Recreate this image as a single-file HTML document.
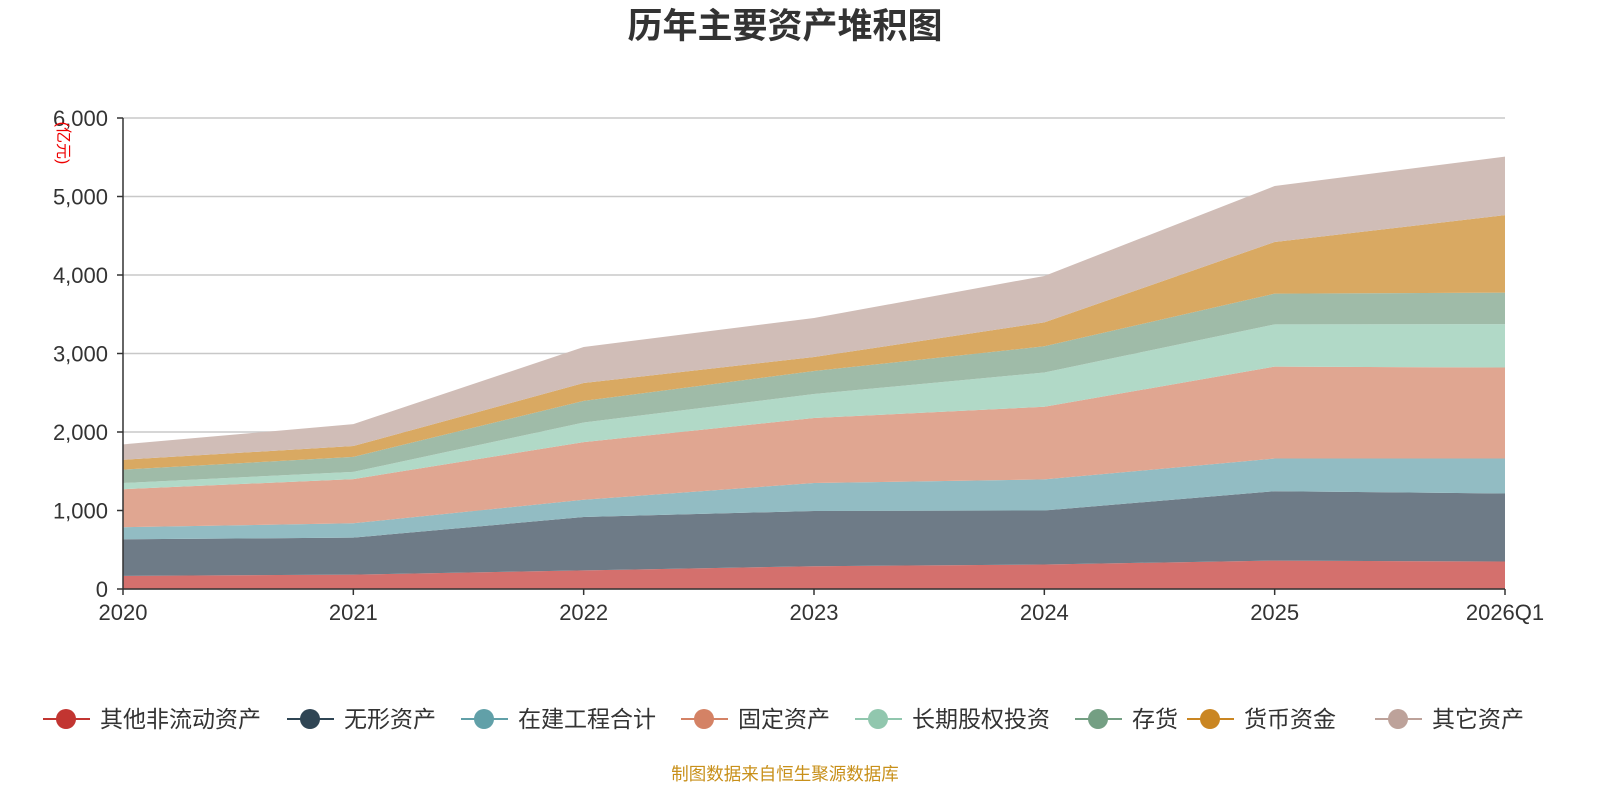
<!DOCTYPE html>
<html><head><meta charset="utf-8">
<style>
body{margin:0;background:#fff;font-family:"Liberation Sans","Noto Sans CJK SC",sans-serif;}
#wrap{position:relative;width:1600px;height:800px;}
</style></head>
<body><div id="wrap">
<svg id="chart" width="1600" height="800" style="font-family:'Liberation Sans','Noto Sans CJK SC',sans-serif"></svg>
</div>
<script>
const categories=["2020","2021","2022","2023","2024","2025","2026Q1"];
const seriesNames=["其他非流动资产","无形资产","在建工程合计","固定资产","长期股权投资","存货","货币资金","其它资产"];
const sOtherNonCurrent=[167,183,237,290,312,362,350];
const sIntangible=[466,471,680,704,688,884,867];
const sConstruction=[154,183,220,356,396,416,445];
const sFixed=[484,563,734,828,925,1171,1159];
const sEquityInv=[79,92,250,306,437,538,554];
const sInventory=[171,191,275,293,334,392,400];
const sCash=[125,138,228,178,304,658,988];
const sOther=[196,279,459,497,592,712,745];
const yTicks=[0,1000,2000,3000,4000,5000,6000];
const yTickLabels=["0","1,000","2,000","3,000","4,000","5,000","6,000"];

const series=[sOtherNonCurrent,sIntangible,sConstruction,sFixed,sEquityInv,sInventory,sCash,sOther];
const fills=["#d4706d","#6e7b87","#92bcc3","#e0a691","#b1d9c7","#9fbba8","#d9a962","#d0bdb7"];
const legendColors=["#c23531","#2f4554","#61a0a8","#d48265","#91c7ae","#749f83","#ca8622","#bda29a"];
const NS="http://www.w3.org/2000/svg";
const svg=document.getElementById('chart');
const X0=123,X1=1505,Y0=589,Y1=118,YMAX=6000;
const xS=i=>X0+(X1-X0)*i/(categories.length-1);
const yS=v=>Y0-(Y0-Y1)*v/YMAX;
function mk(t,a,p){const e=document.createElementNS(NS,t);for(const k in a)e.setAttribute(k,a[k]);(p||svg).appendChild(e);return e;}

let t=mk('text',{x:785,y:38,'text-anchor':'middle','font-size':35,'font-weight':'bold',fill:'#333'});
t.textContent='历年主要资产堆积图';



yTicks.forEach((v,i)=>{
  const g=mk('line',{x1:X0,x2:X1,y1:yS(v),y2:yS(v),stroke:'#c8c8c8','stroke-width':1.5});
  
  
  const tk=mk('line',{x1:X0-6,x2:X0,y1:yS(v),y2:yS(v),stroke:'#333','stroke-width':1.5});
  
  
  const l=mk('text',{x:X0-15,y:yS(v)+8,'text-anchor':'end','font-size':22,fill:'#333'});
  l.textContent=yTickLabels[i];
  
  
});

let cum=categories.map(()=>0);
series.forEach((s,si)=>{
  const lower=cum.slice();
  const upper=cum.map((c,i)=>c+s[i]);
  let d='M'+upper.map((v,i)=>xS(i)+','+yS(v)).join(' L');
  for(let i=categories.length-1;i>=0;i--)d+=' L'+xS(i)+','+yS(lower[i]);
  d+='Z';
  const p=mk('path',{d:d,fill:fills[si]});
  
  
  cum=upper;
});

const ax=mk('line',{x1:X0,x2:X0,y1:Y1,y2:Y0,stroke:'#333','stroke-width':1.5});


const xa=mk('line',{x1:X0,x2:X1,y1:Y0,y2:Y0,stroke:'#333','stroke-width':1.5});


categories.forEach((c,i)=>{
  const tk=mk('line',{x1:xS(i),x2:xS(i),y1:Y0,y2:Y0+6,stroke:'#333','stroke-width':1.5});
  
  
  const l=mk('text',{x:xS(i),y:620,'text-anchor':'middle','font-size':22,fill:'#333'});
  l.textContent=c;
  
  
});

const yt=mk('text',{x:0,y:0,'font-size':16,fill:'#e00','text-anchor':'middle',transform:'translate(58,143) rotate(90)'});
yt.textContent='(亿元)';



const legendX=[43,287,461,681,855,1075,1187,1375];
seriesNames.forEach((n,i)=>{
  const g=mk('g',{});
  
  
  const x=legendX[i];
  mk('line',{x1:x,x2:x+47,y1:719,y2:719,stroke:legendColors[i],'stroke-width':2},g);
  mk('circle',{cx:x+23,cy:719,r:10,fill:legendColors[i]},g);
  const l=mk('text',{x:x+57,y:727,'font-size':23,fill:'#333'},g);
  l.textContent=n;
});

const src=mk('text',{x:785,y:780,'text-anchor':'middle','font-size':17.5,fill:'#c8901a'});
src.textContent='制图数据来自恒生聚源数据库';


</script>
</body></html>
